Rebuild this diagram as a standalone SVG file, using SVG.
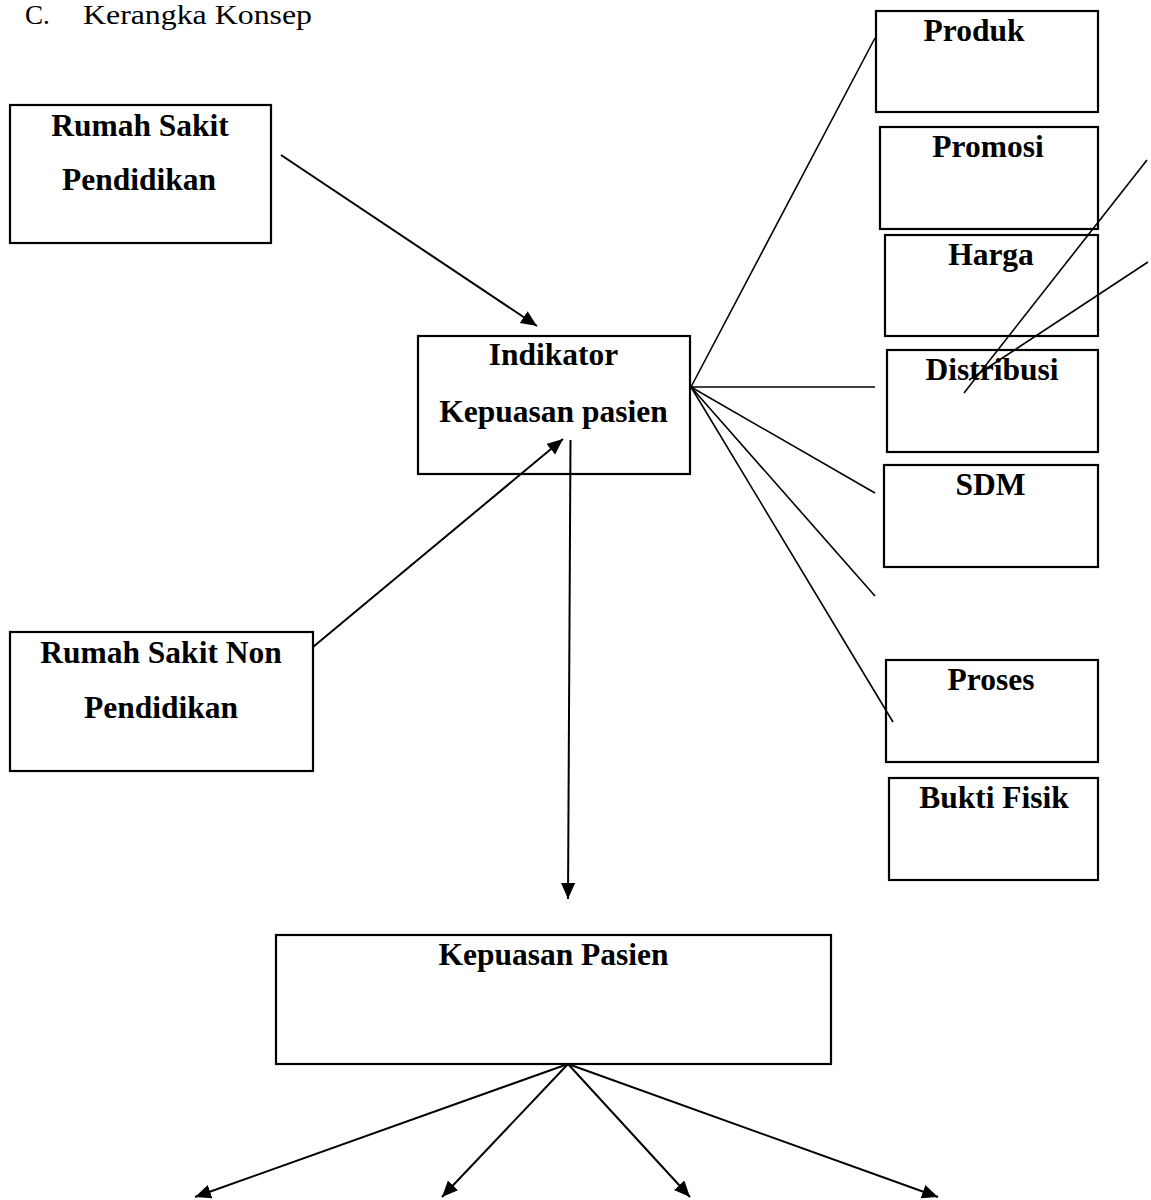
<svg xmlns="http://www.w3.org/2000/svg" width="1151" height="1200" viewBox="0 0 1151 1200">
<style>
.box{fill:#fff;stroke:#000;stroke-width:2.2}
.lbl{font-family:"Liberation Serif","Times New Roman",serif;font-weight:bold;font-size:31.5px;fill:#000;text-anchor:middle}
.title{font-family:"Liberation Serif","Times New Roman",serif;font-size:27px;fill:#000}
.ln{stroke:#000;stroke-width:1.6;fill:none}
.ar{stroke:#000;stroke-width:2;fill:none;marker-end:url(#ah)}
</style>
<defs>
<marker id="ah" markerUnits="userSpaceOnUse" markerWidth="18" markerHeight="16" refX="16" refY="7" orient="auto">
<path d="M0,0 L16,7 L0,14 z" fill="#000"/>
</marker>
</defs>
<g id="title">
<text class="title" x="25" y="24">C.</text>
<text class="title" x="83" y="24" textLength="229" lengthAdjust="spacingAndGlyphs">Kerangka Konsep</text>
</g>
<g id="rs-pendidikan">
<rect class="box" x="10" y="105" width="261" height="138"/>
<text class="lbl" x="140" y="136">Rumah Sakit</text>
<text class="lbl" x="139" y="190">Pendidikan</text>
</g>
<g id="rs-non-pendidikan">
<rect class="box" x="10" y="632" width="303" height="139"/>
<text class="lbl" x="161" y="663">Rumah Sakit Non</text>
<text class="lbl" x="161" y="718">Pendidikan</text>
</g>
<g id="indikator">
<rect class="box" x="418" y="336" width="272" height="138"/>
<text class="lbl" x="553.5" y="365">Indikator</text>
<text class="lbl" x="553.5" y="422">Kepuasan pasien</text>
</g>
<g id="produk">
<rect class="box" x="876" y="11" width="222" height="101"/>
<text class="lbl" x="974" y="41">Produk</text>
</g>
<g id="promosi">
<rect class="box" x="880" y="127" width="218" height="102"/>
<text class="lbl" x="988" y="157">Promosi</text>
</g>
<g id="harga">
<rect class="box" x="885" y="235" width="213" height="101"/>
<text class="lbl" x="991" y="265">Harga</text>
</g>
<g id="distribusi">
<rect class="box" x="887" y="350" width="211" height="102"/>
<text class="lbl" x="992" y="380">Distribusi</text>
</g>
<g id="sdm">
<rect class="box" x="884" y="465" width="214" height="102"/>
<text class="lbl" x="990.5" y="495">SDM</text>
</g>
<g id="proses">
<rect class="box" x="886" y="660" width="212" height="102"/>
<text class="lbl" x="991" y="690">Proses</text>
</g>
<g id="bukti-fisik">
<rect class="box" x="889" y="778" width="209" height="102"/>
<text class="lbl" x="994" y="808">Bukti Fisik</text>
</g>
<g id="kepuasan-pasien">
<rect class="box" x="276" y="935" width="555" height="129"/>
<text class="lbl" x="553.5" y="965">Kepuasan Pasien</text>
</g>
<g id="connectors">
<line class="ar" x1="281" y1="155" x2="537" y2="326"/>
<line class="ar" x1="313" y1="647" x2="563" y2="439"/>
<line class="ar" x1="570.5" y1="440" x2="568" y2="899"/>
<line class="ln" x1="691" y1="387" x2="875" y2="38"/>
<line class="ln" x1="691" y1="387" x2="875" y2="387"/>
<line class="ln" x1="691" y1="387" x2="875" y2="493"/>
<line class="ln" x1="691" y1="387" x2="875" y2="596"/>
<line class="ln" x1="691" y1="387" x2="893" y2="722"/>
<line class="ln" x1="1147" y1="160" x2="964" y2="393"/>
<line class="ln" x1="1148" y1="262" x2="969" y2="380"/>
<line class="ar" x1="568" y1="1064" x2="195" y2="1197"/>
<line class="ar" x1="568" y1="1064" x2="442" y2="1197"/>
<line class="ar" x1="568" y1="1064" x2="690" y2="1197"/>
<line class="ar" x1="568" y1="1064" x2="938" y2="1197"/>
</g>
</svg>
